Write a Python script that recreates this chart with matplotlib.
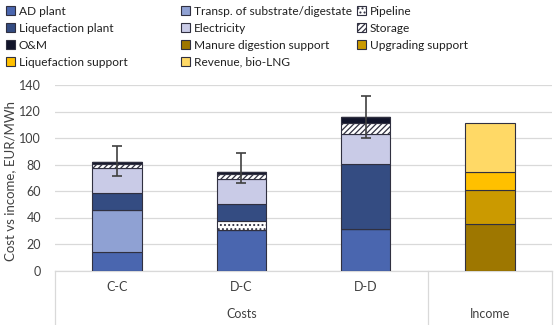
import matplotlib
matplotlib.use("Agg")
import matplotlib.pyplot as plt
import numpy as np

plt.rcParams['font.family'] = ['Lato', 'DejaVu Sans']
plt.rcParams['hatch.linewidth'] = 0.9

# Scenarios and groups
categories = ["C-C", "D-C", "D-D", ""]
groups = ["Costs", "Income"]

# Stacked components (EUR/MWh); income components only in the last column
ad_plant        = [14.0, 30.5, 31.0, 0.0]
transport       = [32.0, 0.0, 0.0, 0.0]
pipeline        = [0.0, 7.0, 0.0, 0.0]
liq_plant       = [12.5, 12.5, 49.5, 0.0]
electricity     = [19.0, 19.0, 22.5, 0.0]
storage         = [3.0, 3.5, 8.0, 0.0]
om              = [1.2, 2.0, 4.5, 0.0]
manure_support  = [0.0, 0.0, 0.0, 35.0]
upgrade_support = [0.0, 0.0, 0.0, 26.0]
liq_support     = [0.0, 0.0, 0.0, 13.0]
revenue         = [0.0, 0.0, 0.0, 37.5]

# Uncertainty range of total cost (lower, upper)
err_low  = [71.0, 66.0, 100.0]
err_high = [94.0, 88.5, 131.5]

series = [
    ("AD plant", ad_plant, "#4A66AF", None),
    ("Transp. of substrate/digestate", transport, "#8FA1D3", None),
    ("Pipeline", pipeline, "white", "...."),
    ("Liquefaction plant", liq_plant, "#344C82", None),
    ("Electricity", electricity, "#C9CBE7", None),
    ("Storage", storage, "white", "//////"),
    ("O&M", om, "#11142A", None),
    ("Manure digestion support", manure_support, "#9E7700", None),
    ("Upgrading support", upgrade_support, "#CB9A00", None),
    ("Liquefaction support", liq_support, "#FFC000", None),
    ("Revenue, bio-LNG", revenue, "#FFD966", None),
]

W, H = 557, 325
fig = plt.figure(figsize=(W / 100, H / 100), dpi=100)
ax_left, ax_right = 55 / W, 552 / W
y0_px, y140_px = 270.5, 85.0
ax = fig.add_axes([ax_left, (H - y0_px) / H, ax_right - ax_left, (y0_px - y140_px) / H])

x = np.arange(len(categories))
bottom = np.zeros(len(categories))
handles = {}
for name, vals, color, hatch in series:
    vals = np.array(vals)
    bars = ax.bar(x, vals, 0.40, bottom=bottom, color=color, edgecolor="#303040",
                  linewidth=0.8, hatch=hatch, zorder=3, label=name)
    handles[name] = bars
    bottom += vals

totals = bottom[:3]
yerr = np.array([totals - np.array(err_low), np.array(err_high) - totals])
ax.errorbar(x[:3], totals, yerr=yerr, fmt="none", ecolor="#404040",
            elinewidth=1.2, capsize=3.5, capthick=1.2, zorder=5)

ax.set_xlim(-0.5, 3.5)
ax.set_ylim(0, 140)
ax.set_yticks(np.arange(0, 141, 20))
ax.tick_params(axis="y", length=0, labelsize=9, pad=10, colors="#404040")
ax.tick_params(axis="x", length=0, labelbottom=False)
ax.yaxis.grid(True, color="#D9D9D9", linewidth=0.9, zorder=0)
for s in ["top", "right", "left"]:
    ax.spines[s].set_visible(False)
ax.spines["bottom"].set_color("#D9D9D9")
ax.spines["bottom"].set_linewidth(0.9)
fig.text(10 / W, (H - 181) / H, "Cost vs income, EUR/MWh", rotation=90,
         ha="center", va="center", fontsize=9.5, color="#404040")

# Category axis with group labels
tr = ax.get_xaxis_transform()
for xc, lab in zip(x, categories):
    ax.text(xc, -0.09, lab, transform=tr, ha="center", va="center", fontsize=9, color="#404040")
ax.text(1, -0.235, groups[0], transform=tr, ha="center", va="center", fontsize=9, color="#404040")
ax.text(3, -0.235, groups[1], transform=tr, ha="center", va="center", fontsize=9, color="#404040")
for xs in [-0.5, 2.5, 3.5]:
    ax.plot([xs, xs], [0, -0.30], transform=tr, color="#D9D9D9", lw=0.9, clip_on=False)

# Legend in three columns
cols = [
    ["AD plant", "Liquefaction plant", "O&M", "Liquefaction support"],
    ["Transp. of substrate/digestate", "Electricity", "Manure digestion support", "Revenue, bio-LNG"],
    ["Pipeline", "Storage", "Upgrading support"],
]
col_x = [6 / W, 181 / W, 357 / W]
for cx, names in zip(col_x, cols):
    fig.legend([handles[n] for n in names], names, loc="upper left",
               bbox_to_anchor=(cx, 1.0 - 6 / H), frameon=False, fontsize=8.6,
               handlelength=0.75, handleheight=0.75, handletextpad=0.3,
               labelspacing=0.5, borderaxespad=0.0, borderpad=0.0,
               labelcolor="#202020")

fig.savefig("out.png", dpi=100)
